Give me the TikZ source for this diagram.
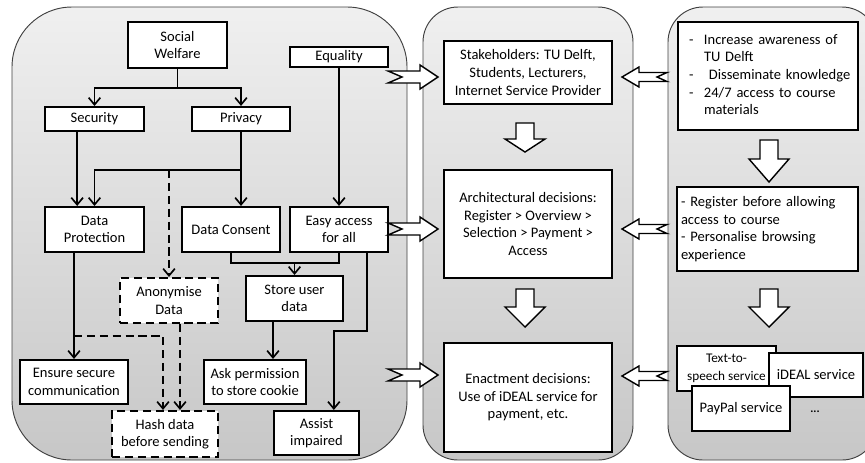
\documentclass[tikz,border=0pt]{standalone}
\usepackage{fontspec}
\setmainfont{Carlito}
\usetikzlibrary{arrows.meta}

\tikzset{
  panel/.style={draw=black!75, line width=0.8pt, top color=black!6, bottom color=black!22},
  box/.style={draw, line width=1.8pt, fill=white, align=center, inner sep=1pt},
  dbox/.style={box, dash pattern=on 7pt off 4pt},
  conn/.style={line width=1.4pt, -{Straight Barb[length=6pt,width=10pt]}},
  dconn/.style={conn, dash pattern=on 7pt off 4pt},
  blockarrow/.style={draw, line width=1.2pt, fill=white, line join=miter},
  rblock/.pic={\draw [blockarrow] (0,-6) -- (32,-6) -- (32,-12) -- (50,0) -- (32,12) -- (32,6) -- (0,6) -- (14,0) -- cycle;},
  lblock/.pic={\draw [blockarrow] (0,0) -- (17,-10) -- (17,-4.5) -- (45,-4.5) -- (35,0) -- (45,4.5) -- (17,4.5) -- (17,10) -- cycle;},
  pics/dnblock/.style args={#1/#2}{code={\draw [blockarrow] (-9,0) -- (9,0) -- (9,#1) -- (20,#1) -- (0,#2) -- (-20,#1) -- (-9,#1) -- cycle;}},
}

\begin{document}
\begin{tikzpicture}[x=0.03cm, y=-0.03cm, font=\fontsize{12.4pt}{15pt}\selectfont]
\useasboundingbox (0,0) rectangle (865,462);

% panels
\begin{scope}
\clip (0,0) rectangle (865,462);
\draw [panel, rounded corners=1.8cm] (12,7) rectangle (407,460);
\draw [panel, rounded corners=1.05cm] (423,7) rectangle (633,460);
\draw [panel, rounded corners=1.05cm] (668,7) rectangle (877,460);
\end{scope}

% values and norms
\node [box, minimum width=2.97cm, minimum height=1.38cm] (welfare) at (177.5,45) {Social\\Welfare};
\node [box, minimum width=2.94cm, minimum height=0.6cm] (equality) at (339,57) {Equality};
\node [box, minimum width=2.97cm, minimum height=0.72cm] (security) at (94.5,119) {Security};
\node [box, minimum width=2.94cm, minimum height=0.72cm] (privacy) at (241,119) {Privacy};
\node [box, minimum width=2.97cm, minimum height=1.35cm] (protection) at (94.5,229.5) {Data\\Protection};
\node [box, minimum width=2.94cm, minimum height=1.35cm] (consent) at (231,229.5) {Data Consent};
\node [box, minimum width=2.94cm, minimum height=1.35cm] (easy) at (339,229.5) {Easy access\\for all};
\node [dbox, minimum width=2.94cm, minimum height=1.35cm] (anonymise) at (169,300.5) {Anonymise\\Data};
\node [box, minimum width=2.91cm, minimum height=1.35cm] (store) at (294.5,298.5) {Store user\\data};
\node [box, minimum width=3.24cm, minimum height=1.32cm] (secure) at (74,382) {Ensure secure\\communication};
\node [box, minimum width=3.06cm, minimum height=1.32cm] (cookie) at (255,382) {Ask permission\\to store cookie};
\node [dbox, minimum width=3.18cm, minimum height=1.38cm] (hash) at (165,434) {Hash data\\before sending};
\node [box, minimum width=2.55cm, minimum height=1.32cm] (assist) at (316.5,433) {Assist\\impaired};

\draw [conn] (welfare.south) -- ++(0,19) -| (security.north);
\draw [conn] (welfare.south) -- ++(0,19) -| (privacy.north);
\draw [conn] ([xshift=-0.52cm]security.south) -- ([xshift=-0.52cm]protection.north);
\draw [conn] (privacy.south) -- ++(0,38) coordinate (pv) -| (protection.north);
\draw [conn] (privacy.south) -- (privacy.south |- consent.north);
\draw [dconn] (pv -| anonymise.north) -- (anonymise.north);
\draw [conn] (equality) -- (easy);
\draw [line width=1.4pt] (consent.south) -- ++(0,10) coordinate (cs) -| (easy.south);
\draw [conn] (cs -| store.north) -- (store.north);
\draw [conn] ([xshift=0.84cm]easy.south) -- ++(0,78) -| ([xshift=0.52cm]assist.north);
\draw [conn] (secure.north |- protection.south) -- (secure.north);
\draw [dconn] (secure.north) ++(0,-23) -| ([xshift=-0.06cm]hash.north);
\draw [dconn] ([xshift=0.33cm]anonymise.south) coordinate (an) -- (an |- hash.north);
\draw [conn] ([xshift=-0.645cm]store.south) coordinate (st) -- (st |- cookie.north);

% decisions
\node [box, minimum width=5.04cm, minimum height=1.89cm] (stake) at (528,72.5) {Stakeholders: TU Delft,\\Students, Lecturers,\\Internet Service Provider};
\node [box, minimum width=5.04cm, minimum height=3.24cm] (arch) at (528,224) {Architectural decisions:\\Register > Overview >\\Selection > Payment >\\Access};
\node [box, minimum width=5.04cm, minimum height=3.27cm] (enact) at (528,397.5) {Enactment decisions:\\Use of iDEAL service for\\payment, etc.};
\pic at (525,123) {dnblock=16/29};
\pic at (525,289) {dnblock=18/38};

% goals and services
\node [box, minimum height=3.24cm, text width=4.74cm, inner xsep=0.33cm, align=left] (goals) at (768,76) {\begin{tabular}{@{}p{0.45cm}@{}l@{}}
- & Increase awareness of\\
  & TU Delft\\
- & \ Disseminate knowledge\\
- & 24/7 access to course\\
  & materials
\end{tabular}};
\node [box, minimum height=2.52cm, text width=5.19cm, inner xsep=0.12cm, align=left] (access) at (767.5,229) {- Register before allowing\\access to course\\- Personalise browsing\\experience};
\pic at (769,140) {dnblock=19/42};
\pic at (769,289) {dnblock=18/38};
\node [box, minimum width=2.97cm, minimum height=1.35cm, font=\fontsize{11.3pt}{15pt}\selectfont] (tts) at (726.5,368.5) {Text-to-\\speech service};
\node [box, minimum width=2.82cm, minimum height=1.32cm] (ideal) at (816,375) {iDEAL service};
\node [box, minimum width=2.94cm, minimum height=1.35cm] (paypal) at (741,408.5) {PayPal service};
\node [font=\bfseries] (dots) at (815,412) {...};

% links between panels
\pic at (388,77) {rblock};
\pic at (388,229) {rblock};
\pic at (388,375) {rblock};
\pic at (622,77) {lblock};
\pic at (622,229) {lblock};
\pic at (622,376) {lblock};

\end{tikzpicture}
\end{document}
